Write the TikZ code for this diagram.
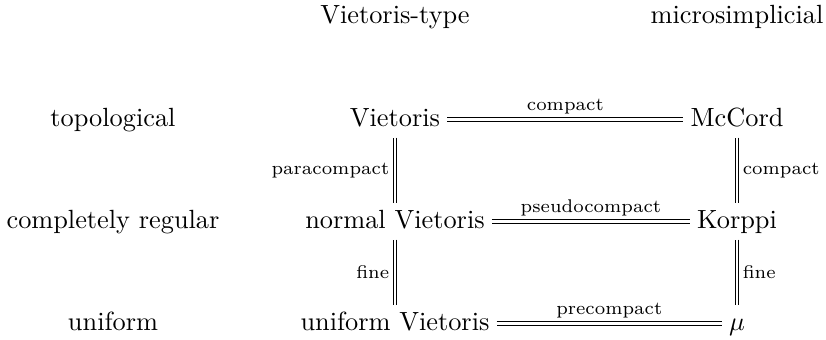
\documentclass[tikz,border=0pt]{standalone}
\begin{document}
\begin{tikzpicture}[x=0.38pt,y=-0.38pt,
  cell/.style={inner sep=2.5pt, text height=6.7pt, text depth=1.7pt, anchor=base},
  hdr/.style={inner sep=0pt, anchor=base},
  eq/.style={double, double distance=1pt, line width=0.4pt},
  lbl/.style={font=\scriptsize, inner sep=2pt}]
\useasboundingbox (0,0) rectangle (826,339);
\node[hdr] (h1) at (395,24) {Vietoris-type};
\node[hdr] (h2) at (737,24) {microsimplicial};
\node[hdr] (r1) at (113,126) {topological};
\node[hdr] (r2) at (113,228) {completely regular};
\node[hdr] (r3) at (113,330) {uniform};
\node[cell] (V) at (395,126) {Vietoris};
\node[cell] (M) at (737,126) {McCord};
\node[cell] (nV) at (395,228) {normal Vietoris};
\node[cell] (K) at (737,228) {Korppi};
\node[cell] (uV) at (395,330) {uniform Vietoris};
\node[cell] (mu) at (737,330) {$\mu$};
\draw[eq] (V) -- node[lbl, above]{compact} (M);
\draw[eq] (V) -- node[lbl, left]{paracompact} (nV);
\draw[eq] (M) -- node[lbl, right]{compact} (K);
\draw[eq] (nV) -- node[lbl, above]{pseudocompact} (K);
\draw[eq] (nV) -- node[lbl, left]{fine} (uV);
\draw[eq] (K) -- node[lbl, right]{fine} (mu);
\draw[eq] (uV) -- node[lbl, above]{precompact} (mu);
\end{tikzpicture}
\end{document}
